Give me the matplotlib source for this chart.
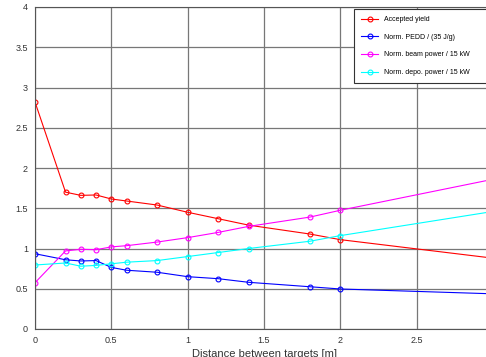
import numpy as np
import matplotlib
matplotlib.use('Agg')
import matplotlib.pyplot as plt

plt.rcParams['font.family'] = ['Liberation Sans', 'DejaVu Sans']

# distances between targets [m]
dist = [0, 0.2, 0.3, 0.4, 0.5, 0.6, 0.8, 1.0, 1.2, 1.4, 1.8, 2.0, 3.0]

yield_acc = [2.82, 1.70, 1.66, 1.665, 1.615, 1.59, 1.54, 1.45, 1.37, 1.29, 1.18, 1.11, 0.88]
pedd_norm = [0.935, 0.86, 0.845, 0.85, 0.765, 0.73, 0.705, 0.65, 0.625, 0.58, 0.525, 0.497, 0.437]
beam_norm = [0.575, 0.97, 0.99, 0.985, 1.02, 1.035, 1.08, 1.135, 1.20, 1.275, 1.39, 1.475, 1.86]
depo_norm = [0.795, 0.82, 0.78, 0.79, 0.81, 0.83, 0.85, 0.90, 0.95, 1.00, 1.09, 1.16, 1.46]

labels = ['Accepted yield', 'Norm. PEDD / (35 J/g)',
          'Norm. beam power / 15 kW', 'Norm. depo. power / 15 kW']
colors = ['#ff0000', '#0000ff', '#ff00ff', '#00ffff']

W, H = 486, 357
fig = plt.figure(figsize=(W / 100, H / 100), dpi=100)
# the original picture is cropped on the right: x=3 sits just past the edge
ax = fig.add_axes([35 / W, 28 / H, 458 / W, 322 / H])

n_mark = len(dist) - 1
for ys, c, lab in zip([yield_acc, pedd_norm, beam_norm, depo_norm], colors, labels):
    ax.plot(dist, ys, color=c, lw=0.8, marker='o', ms=3.5, mfc='none', mec=c,
            mew=0.8, markevery=list(range(n_mark)), label=lab)

ax.set_xlim(0, 3)
ax.set_ylim(0, 4)
ax.set_xticks([0, 0.5, 1, 1.5, 2, 2.5])
ax.set_xticklabels(['0', '0.5', '1', '1.5', '2', '2.5'])
ax.set_yticks([0, 0.5, 1, 1.5, 2, 2.5, 3, 3.5, 4])
ax.set_yticklabels(['0', '0.5', '1', '1.5', '2', '2.5', '3', '3.5', '4'])
ax.grid(True, color='#777777', lw=0.9)
ax.set_axisbelow(True)
for s in ax.spines.values():
    s.set_color('#555555')
    s.set_linewidth(0.8)
ax.tick_params(length=0, labelsize=6.5, colors='#333333', pad=5)
ax.set_xlabel('Distance between targets [m]', fontsize=8, color='#333333', labelpad=3)

# legend box runs past the cropped right edge, as in the original
leg = ax.legend(loc='upper left', bbox_to_anchor=(354 / W, 1 - 9 / H, 150 / W, 0),
                bbox_transform=fig.transFigure, borderaxespad=0, mode='expand',
                fontsize=5.0, fancybox=False, framealpha=1, edgecolor='#333333',
                labelspacing=1.55, handlelength=2.5, handletextpad=0.8,
                borderpad=1.0)
leg.get_frame().set_linewidth(0.8)

fig.savefig('out.png', dpi=100)
